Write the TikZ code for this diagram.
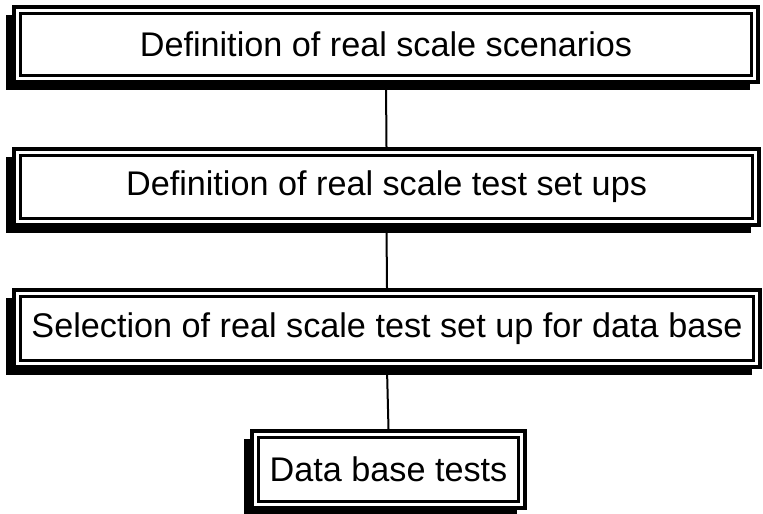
\documentclass[tikz,border=0pt]{standalone}
\usepackage{fontspec}
\setmainfont{Liberation Sans}
\usetikzlibrary{shadows,backgrounds}
\begin{document}
\begin{tikzpicture}[x=1pt,y=-1pt,
  stepbox/.style={draw=black, line width=4pt, fill=white, inner sep=0pt,
    font=\fontsize{34.2}{41}\selectfont,
    general shadow={fill=black, shadow xshift=-8pt, shadow yshift=-8pt},
    path picture={\draw[line width=2.5pt]
      ([shift={(6.5pt,-6.5pt)}]path picture bounding box.north west) rectangle
      ([shift={(-6.5pt,6.5pt)}]path picture bounding box.south east);}},
  conn/.style={draw=black, line width=2pt}]
\useasboundingbox (0,0) rectangle (763,514);
\node[stepbox, minimum width=744pt, minimum height=75pt] (b1) at (386,44.5) {Definition of real scale scenarios};
\node[stepbox, minimum width=745pt, minimum height=76pt] (b2) at (386.5,187) {Definition of real scale test set ups};
\node[stepbox, minimum width=746pt, minimum height=77pt] (b3) at (387,328.5) {Selection of real scale test set up for data base};
\node[stepbox, minimum width=273pt, minimum height=77pt] (b4) at (388.5,469.5) {Data base tests};
\begin{scope}[on background layer]
\draw[conn] (b1.south) -- (b2.north);
\draw[conn] (b2.south) -- (b3.north);
\draw[conn] (b3.south) -- (b4.north);
\end{scope}
\end{tikzpicture}
\end{document}
